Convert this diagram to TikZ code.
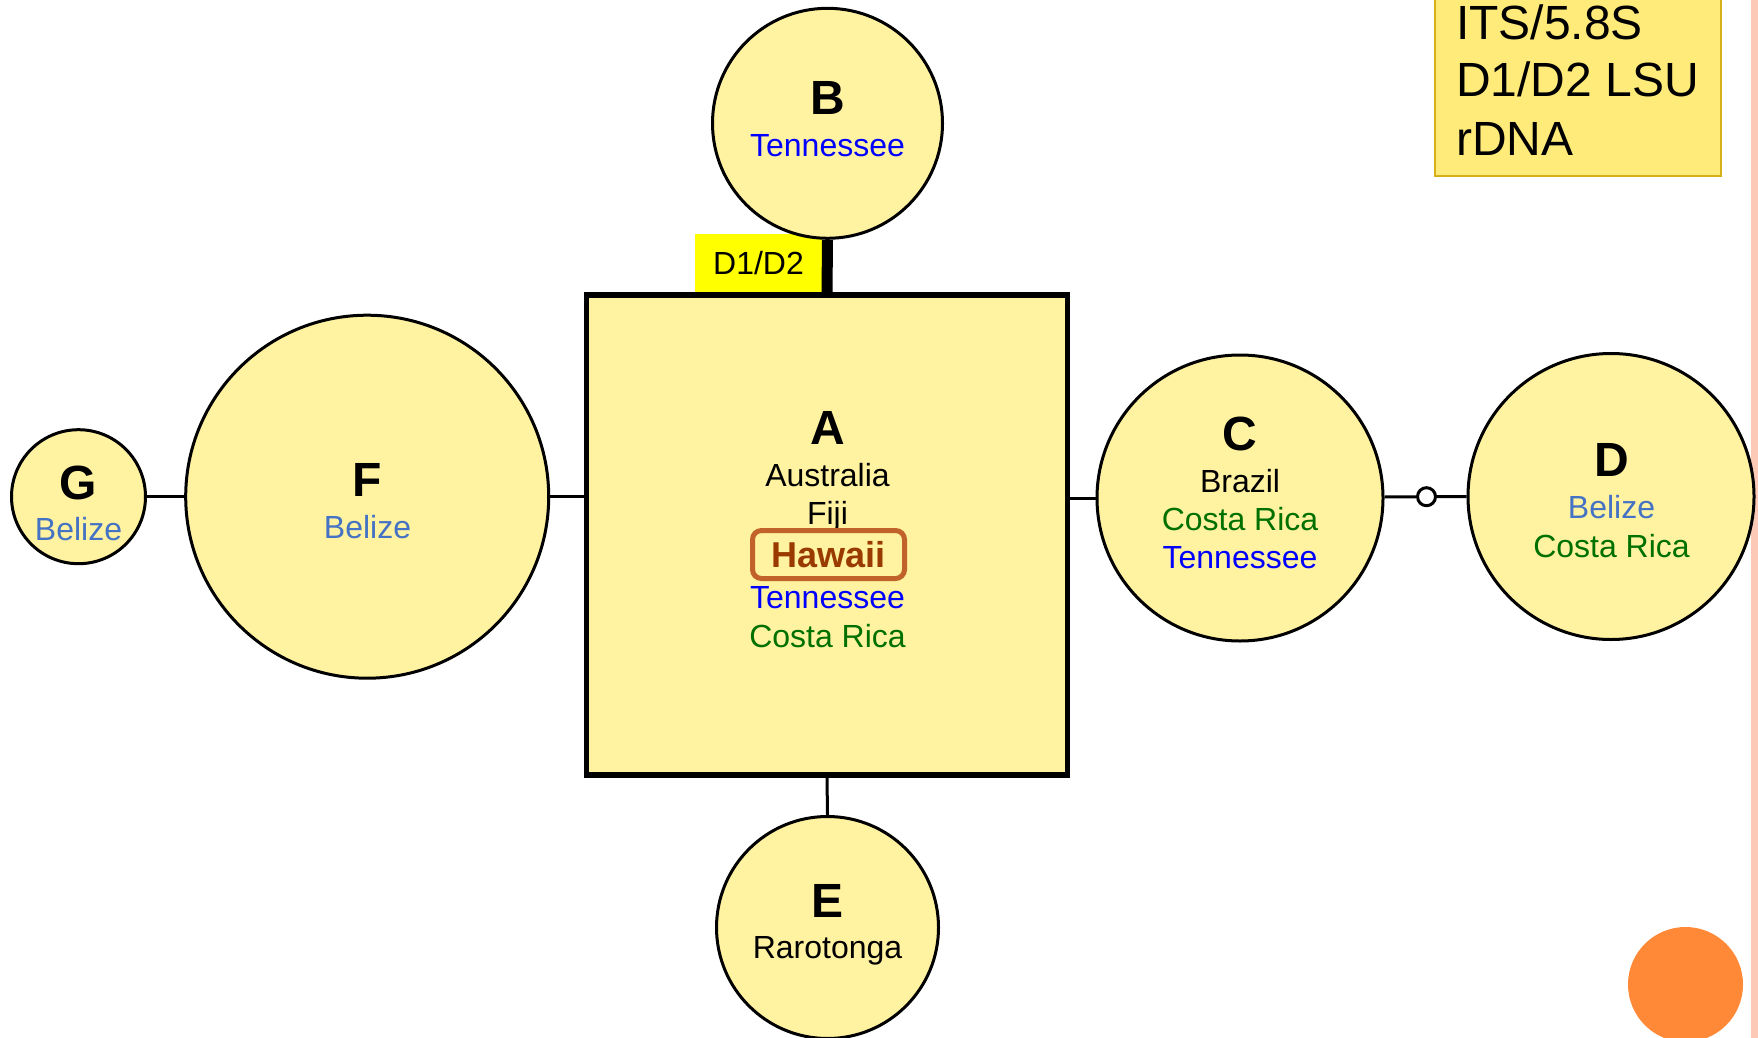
\documentclass[tikz,border=0pt]{standalone}
\usepackage{fontspec}
\setmainfont{Liberation Sans}
\definecolor{nodefill}{RGB}{255,242,160}
\definecolor{legendfill}{RGB}{255,235,122}
\definecolor{legendedge}{RGB}{214,176,24}
\definecolor{tagyellow}{RGB}{255,255,0}
\definecolor{tnblue}{RGB}{0,0,255}
\definecolor{bzblue}{RGB}{68,114,196}
\definecolor{crgreen}{RGB}{0,112,0}
\definecolor{hibrown}{RGB}{153,58,0}
\definecolor{hiedge}{RGB}{192,98,42}
\definecolor{accent}{RGB}{255,137,55}
\definecolor{pinkedge}{RGB}{251,201,182}
\begin{document}
\begin{tikzpicture}[x=1pt,y=-1pt,
  blob/.style={circle, draw, line width=3pt, fill=nodefill, inner sep=0pt},
  hub/.style={rectangle, draw, line width=5.5pt, fill=nodefill, inner sep=0pt},
  tag/.style={font=\fontsize{48}{48}\selectfont\bfseries, anchor=base, inner sep=0pt},
  place/.style={font=\fontsize{32}{32}\selectfont, anchor=base, inner sep=0pt},
  legendtxt/.style={font=\fontsize{48}{48}\selectfont, anchor=base west, inner sep=0pt},
  link/.style={line width=3pt}]
\useasboundingbox (0,0) rectangle (1758,1038);

% page decorations
\fill[pinkedge] (1751,0) rectangle (1758,1038);
\fill[accent] (1685.5,984.5) circle (57.5);

% marker legend
\draw[fill=legendfill, draw=legendedge, line width=2.5pt] (1435,-5) rectangle (1721,176);
\node[legendtxt] (l1) at (1456,40) {ITS/5.8S};
\node[legendtxt] (l2) at (1456,97) {D1/D2 LSU};
\node[legendtxt] (l3) at (1456,155) {rDNA};

% D1/D2 tag beside the B--A branch
\node[fill=tagyellow, minimum width=127, minimum height=58, inner sep=0pt,
      text height=23pt, text depth=0pt, font=\fontsize{32}{32}\selectfont]
      (d12) at (758.5,263) {D1/D2};

% haplotypes
\node[hub, minimum width=481, minimum height=480] (A) at (827,535) {};
\node[blob, minimum size=230] (B) at (827.5,123.3) {};
\node[blob, minimum size=286] (C) at (1240,498) {};
\node[blob, minimum size=286] (D) at (1611,496.5) {};
\node[blob, minimum size=222] (E) at (827.5,927.5) {};
\node[blob, minimum size=363] (F) at (367.2,496.7) {};
\node[blob, minimum size=134] (G) at (78.5,496.7) {};
\node[circle, draw, line width=3pt, fill=white, inner sep=0pt, minimum size=18] (j) at (1426.5,496.7) {};

% connections
\draw[line width=11pt] (B.south) -- (A.north);
\draw[link] (G) -- (F);
\draw[link] (F.east) -- (F.east -| A.west);
\draw[link] (A.east |- C.west) -- (C.west);
\draw[link] (C) -- (j);
\draw[link] (j) -- (D);
\draw[link] (A.south) -- (E.north);

% labels of A
\node[tag] (a0) at (827.5,444) {A};
\node[place] (a1) at (827.5,486) {Australia};
\node[place] (a2) at (827.5,524) {Fiji};
\node[draw=hiedge, line width=5pt, rounded corners=9pt, minimum width=152, minimum height=48,
      inner sep=0pt, text height=26pt, text depth=0pt, text=hibrown,
      font=\fontsize{36}{36}\selectfont\bfseries] (a3) at (828.5,554.5) {Hawaii};
\node[place, text=tnblue] (a4) at (827.5,608) {Tennessee};
\node[place, text=crgreen] (a5) at (827.5,647) {Costa Rica};

% labels of B
\node[tag] (b0) at (827.5,114) {B};
\node[place, text=tnblue] (b1) at (827.5,156) {Tennessee};

% labels of C
\node[tag] (c0) at (1240,450) {C};
\node[place] (c1) at (1240,492) {Brazil};
\node[place, text=crgreen] (c2) at (1240,530) {Costa Rica};
\node[place, text=tnblue] (c3) at (1240,568) {Tennessee};

% labels of D
\node[tag] (d0) at (1611.5,476) {D};
\node[place, text=bzblue] (d1) at (1611.5,518) {Belize};
\node[place, text=crgreen] (d2) at (1611.5,557) {Costa Rica};

% labels of E
\node[tag] (e0) at (827.5,917) {E};
\node[place] (e1) at (827.5,958) {Rarotonga};

% labels of F
\node[tag] (f0) at (367.5,496) {F};
\node[place, text=bzblue] (f1) at (367.5,538) {Belize};

% labels of G
\node[tag] (g0) at (78.5,499) {G};
\node[place, text=bzblue] (g1) at (78.5,540) {Belize};
\end{tikzpicture}
\end{document}
